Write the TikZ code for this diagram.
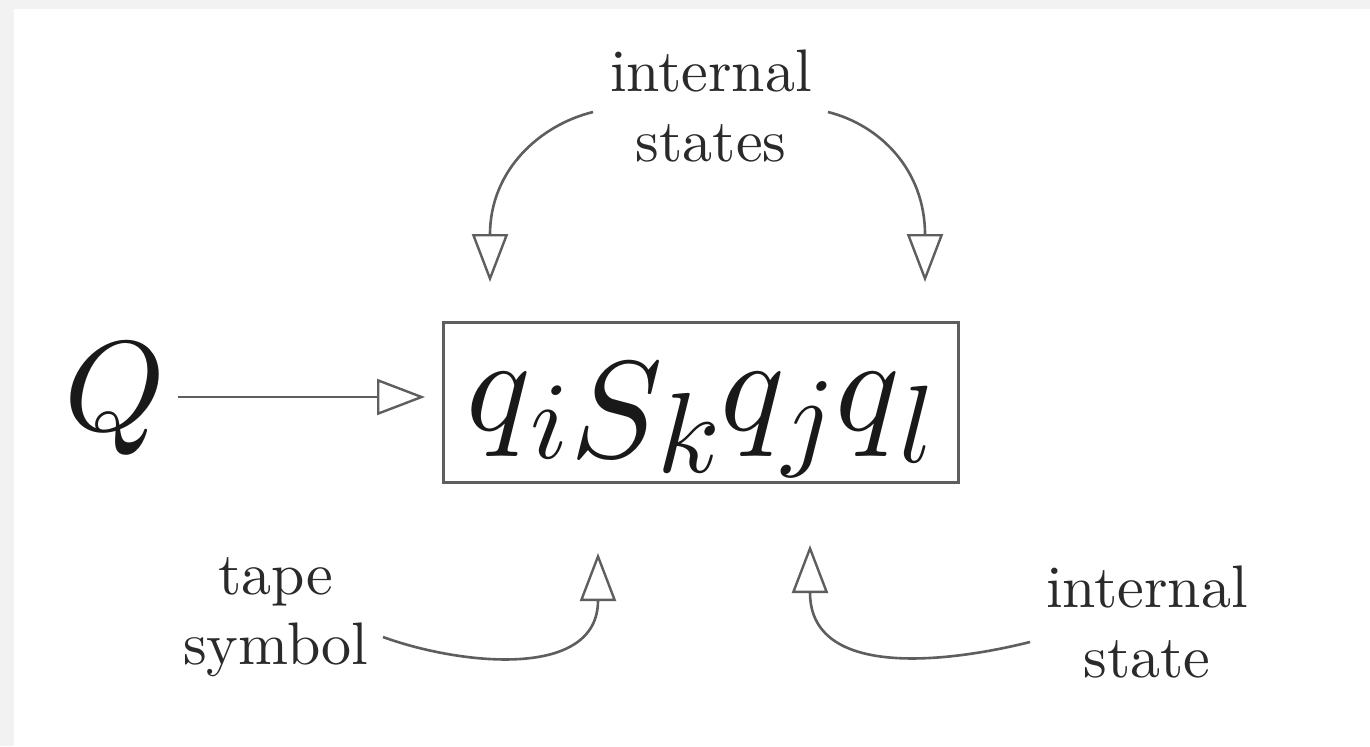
\RequirePackage{fix-cm}
\documentclass[tikz,border=0pt]{standalone}
\usepackage{fontspec}
\setmainfont{lmroman10-regular.otf}
\DeclareFontShape{OML}{cmm}{m}{it}{<->cmmi10}{}
\usetikzlibrary{arrows.meta}
\definecolor{edgegray}{HTML}{F2F2F2}
\definecolor{inkgray}{HTML}{2A2A2A}
\definecolor{linegray}{HTML}{5E5E5E}
% glyph of a given size, lowered by a given amount
\newcommand{\glyphat}[3]{\raisebox{-#2}{\fontsize{#1}{#1}\selectfont$#3$}}
\tikzset{
  lbl/.style={align=center, text=inkgray, inner sep=0pt, font=\fontsize{30}{35}\selectfont},
  conn/.style={draw=linegray, line width=1.3pt, -{Triangle[open, length=24pt, width=18pt, line width=1.2pt]}},
}
\begin{document}
\begin{tikzpicture}[x=0.5pt, y=-0.5pt]
\useasboundingbox (0,0) rectangle (1370,746);
\fill[edgegray] (0,0) rectangle (1370,746);
\fill[white] (14,9) rectangle (1370,746);
% main formula box
\node[draw=linegray, line width=1.5pt, minimum width=257.5pt, minimum height=80pt, inner sep=0pt,
      text height=54pt, text depth=26pt, text=black!90] (box) at (700.5,402)
  {\glyphat{67pt}{0pt}{q}\glyphat{55pt}{14pt}{i}\kern1pt\glyphat{69pt}{13.5pt}{S}\kern-3pt\glyphat{57pt}{21pt}{k}\glyphat{67pt}{0pt}{q}\kern-1pt\glyphat{56pt}{12.5pt}{j}\glyphat{67pt}{0pt}{q}\glyphat{55pt}{16pt}{l}};
% Q
\node[inner sep=0pt, anchor=base, text=black!90, font=\fontsize{64}{70}\selectfont] (Q) at (115,430) {$Q$};
\coordinate (qstart) at (178,397);
\coordinate (qend) at (425,397);
\draw[conn] (qstart) -- (qend);
% labels
\node[lbl] (top) at (711,106) {internal\\states};
\node[lbl] (tape) at (276,617) {tape\\symbol};
\node[lbl] (istate) at (1147,622) {internal\\state};
% connector end points
\coordinate (tl0) at (593,112);
\coordinate (tl1) at (490,282);
\coordinate (tr0) at (828,112);
\coordinate (tr1) at (925,282);
\coordinate (bl0) at (383,637);
\coordinate (bl1) at (598,553);
\coordinate (br0) at (1030,642);
\coordinate (br1) at (810,545);
\draw[conn] (tl0) .. controls (540,125) and (490,170) .. (tl1);
\draw[conn] (tr0) .. controls (880,125) and (925,170) .. (tr1);
\draw[conn] (bl0) .. controls (460,665) and (598,680) .. (bl1);
\draw[conn] (br0) .. controls (950,662) and (810,680) .. (br1);
\end{tikzpicture}
\end{document}
